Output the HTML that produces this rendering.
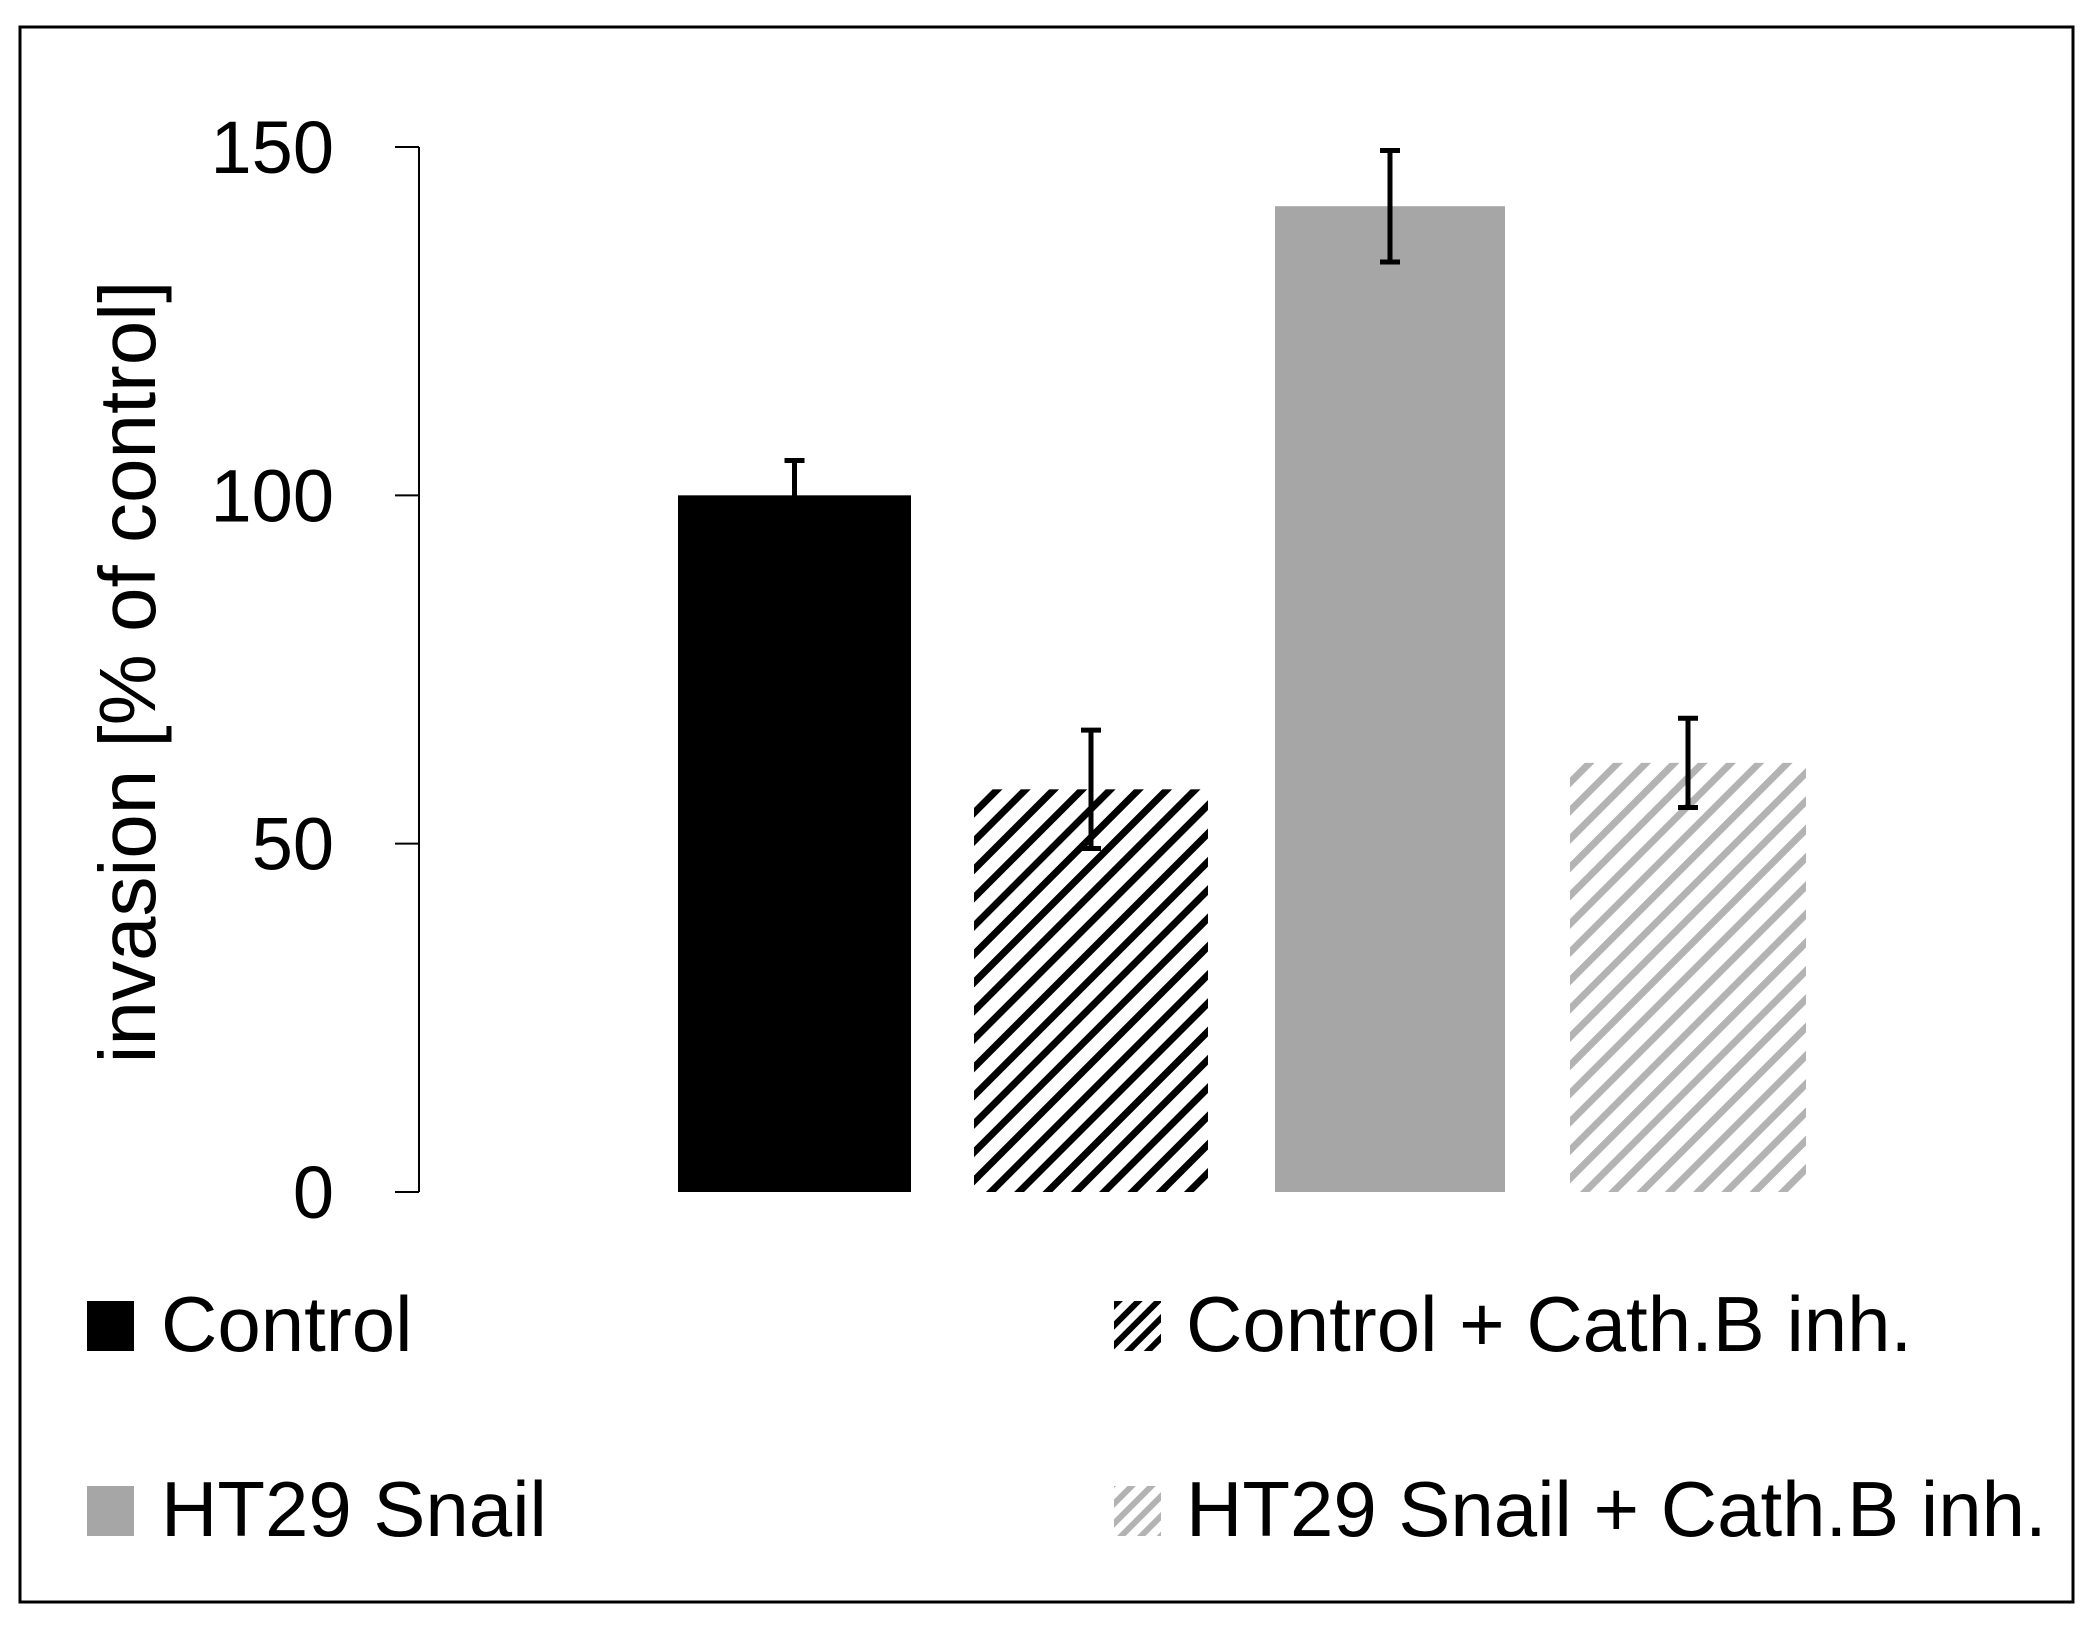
<!DOCTYPE html>
<html><head><meta charset="utf-8"><style>
html,body{margin:0;padding:0;background:#fff;}
svg{display:block;font-family:"Liberation Sans",sans-serif;}
</style></head><body>
<svg id="chart" width="2092" height="1626" viewBox="0 0 2092 1626">
<defs>
<pattern id="hatchDark" patternUnits="userSpaceOnUse" width="20" height="20" patternTransform="rotate(45)">
<rect width="20" height="20" fill="#fff"/><rect x="0" y="0" width="7" height="20" fill="#000"/></pattern>
<pattern id="hatchLight" patternUnits="userSpaceOnUse" width="20" height="20" patternTransform="rotate(45)">
<rect width="20" height="20" fill="#fff"/><rect x="0" y="0" width="7" height="20" fill="#b3b3b3"/></pattern>
<pattern id="hatchDarkS" patternUnits="userSpaceOnUse" width="14" height="14" patternTransform="rotate(45)">
<rect width="14" height="14" fill="#fff"/><rect width="6" height="14" fill="#000"/></pattern>
<pattern id="hatchLightS" patternUnits="userSpaceOnUse" width="14" height="14" patternTransform="rotate(45)">
<rect width="14" height="14" fill="#fff"/><rect width="6" height="14" fill="#b3b3b3"/></pattern>
</defs>
<rect x="20" y="27" width="2053" height="1575" fill="#fff" stroke="#000" stroke-width="3"/>
<g id="axis"></g>
<g id="bars"></g>
<text transform="translate(155,672) rotate(-90)" text-anchor="middle" font-size="80" fill="#000">invasion  [% of control]</text>
<g>
<rect x="87" y="1301" width="47" height="50" fill="#000"/>
<text x="161" y="1351" font-size="78">Control</text>
<rect x="1114" y="1301" width="47" height="50" fill="url(#hatchDarkS)"/>
<text x="1186" y="1351" font-size="78">Control + Cath.B inh.</text>
<rect x="87" y="1486" width="47" height="50" fill="#a6a6a6"/>
<text x="161" y="1536" font-size="78">HT29 Snail</text>
<rect x="1114" y="1486" width="47" height="50" fill="url(#hatchLightS)"/>
<text x="1186" y="1536" font-size="78">HT29 Snail + Cath.B inh.</text>
</g>
</svg>
<script>
const categories=["Control","Control + Cath.B inh.","HT29 Snail","HT29 Snail + Cath.B inh."];
const values=[100,57.8,141.5,61.6];
const errors=[5,8.5,8,6.4];
const yTicks=[0,50,100,150];
const NS="http://www.w3.org/2000/svg";
const y0=1192,y150=147;
function yScale(v){return y0-(y0-y150)*v/150;}
const barX=[678,974,1275,1570];
const barW=[233,234,230,236];
const fills=["#000","url(#hatchDark)","#a6a6a6","url(#hatchLight)"];
function mk(tag,attrs,parent){const e=document.createElementNS(NS,tag);for(const k in attrs)e.setAttribute(k,attrs[k]);parent.appendChild(e);return e;}
const ax=document.getElementById('axis');
let l=mk('line',{x1:419,x2:419,y1:yScale(150),y2:yScale(0),stroke:'#000','stroke-width':2},ax);


yTicks.forEach(t=>{
 const tk=mk('line',{x1:395,x2:419,y1:yScale(t),y2:yScale(t),stroke:'#000','stroke-width':2},ax);
 
 
 const tx=mk('text',{x:334,y:yScale(t)+26,'text-anchor':'end','font-size':74},ax);
 tx.textContent=t;
 
 
});
const bg=document.getElementById('bars');
categories.forEach((c,i)=>{
 const r=mk('rect',{x:barX[i],y:yScale(values[i]),width:barW[i],height:yScale(0)-yScale(values[i]),fill:fills[i]},bg);
 
 
 const cx=barX[i]+barW[i]/2;
 const hi=yScale(values[i]+errors[i]),lo=yScale(values[i]-errors[i]);
 const g=mk('g',{stroke:'#000','stroke-width':5},bg);
 
 
 mk('line',{x1:cx,x2:cx,y1:hi,y2:lo},g);
 mk('line',{x1:cx-10,x2:cx+10,y1:hi,y2:hi},g);
 mk('line',{x1:cx-10,x2:cx+10,y1:lo,y2:lo},g);
});
</script>
</body></html>
